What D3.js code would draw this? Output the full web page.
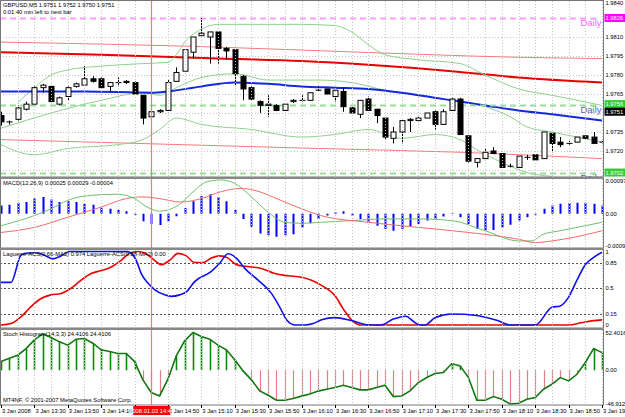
<!DOCTYPE html>
<html><head><meta charset="utf-8">
<script src="https://cdn.jsdelivr.net/npm/d3@7"></script>
<style>
body{margin:0;background:#fff;overflow:hidden}
text{font-family:"Liberation Sans",Arial,sans-serif;font-size:5.8px}
</style></head><body><div id="chart"></div>
<script>
// GBPUSD M5 - candles + indicators, MT4 style

// price bars [open, high, low, close], one per 5 min bar from 13:10
const bars = [
  [1.9748,1.9751,1.9740,1.9743],[1.9743,1.9744,1.9741,1.9743],[1.9745,1.9756,1.9744,1.9754],[1.9753,1.9759,1.9752,1.9757],
  [1.9757,1.9771,1.9757,1.9770],[1.9770,1.9773,1.9766,1.9772],[1.9771,1.9771,1.9759,1.9759],[1.9757,1.9763,1.9756,1.9762],
  [1.9763,1.9771,1.9760,1.9770],[1.9771,1.9774,1.9770,1.9773],[1.9772,1.9787,1.9772,1.9777],[1.9777,1.9779,1.9774,1.9775],
  [1.9777,1.9778,1.9770,1.9770],[1.9771,1.9774,1.9767,1.9774],[1.9774,1.9778,1.9771,1.9774],[1.9775,1.9776,1.9773,1.9774],
  [1.9774,1.9775,1.9765,1.9765],[1.9764,1.9764,1.9741,1.9746],[1.9747,1.9751,1.9747,1.9751],[1.9751,1.9753,1.9750,1.9752],
  [1.9752,1.9776,1.9752,1.9774],[1.9775,1.9786,1.9775,1.9782],[1.9783,1.9800,1.9783,1.9800],[1.9798,1.9810,1.9793,1.9810],
  [1.9811,1.9825,1.9811,1.9813],[1.9810,1.9814,1.9789,1.9814],[1.9814,1.9814,1.9789,1.9801],[1.9801,1.9802,1.9792,1.9799],
  [1.9800,1.9800,1.9772,1.9781],[1.9779,1.9780,1.9760,1.9769],[1.9770,1.9771,1.9760,1.9761],[1.9759,1.9760,1.9750,1.9756],
  [1.9756,1.9764,1.9747,1.9757],[1.9756,1.9757,1.9752,1.9752],[1.9752,1.9757,1.9752,1.9757],[1.9759,1.9761,1.9758,1.9760],
  [1.9760,1.9764,1.9759,1.9760],[1.9760,1.9766,1.9760,1.9766],[1.9768,1.9771,1.9767,1.9768],[1.9769,1.9769,1.9765,1.9765],
  [1.9763,1.9768,1.9759,1.9768],[1.9767,1.9770,1.9751,1.9755],[1.9754,1.9755,1.9750,1.9750],[1.9749,1.9760,1.9746,1.9760],
  [1.9761,1.9763,1.9752,1.9752],[1.9753,1.9753,1.9742,1.9748],[1.9746,1.9746,1.9729,1.9731],[1.9730,1.9739,1.9726,1.9735],
  [1.9735,1.9744,1.9726,1.9744],[1.9744,1.9746,1.9735,1.9745],[1.9744,1.9747,1.9744,1.9746],[1.9746,1.9750,1.9746,1.9750],
  [1.9751,1.9752,1.9737,1.9741],[1.9741,1.9753,1.9741,1.9751],[1.9752,1.9762,1.9752,1.9761],[1.9761,1.9762,1.9733,1.9733],
  [1.9732,1.9732,1.9711,1.9712],[1.9711,1.9714,1.9707,1.9714],[1.9714,1.9722,1.9714,1.9719],[1.9720,1.9723,1.9718,1.9718],
  [1.9718,1.9718,1.9707,1.9707],[1.9708,1.9710,1.9707,1.9708],[1.9707,1.9716,1.9707,1.9716],[1.9715,1.9717,1.9713,1.9715],
  [1.9717,1.9717,1.9713,1.9713],[1.9714,1.9735,1.9714,1.9735],[1.9734,1.9734,1.9719,1.9726],[1.9727,1.9731,1.9723,1.9725],
  [1.9726,1.9728,1.9725,1.9726],[1.9727,1.9731,1.9727,1.9731],[1.9732,1.9732,1.9730,1.9730],[1.9731,1.9735,1.9726,1.9726],
  [1.9727,1.9728,1.9726,1.9727]
];

// moving averages / bands, [bar, price]
const maBlue = [[0,1.9767],[10,1.9767],[18,1.9766],[20,1.9767],[24,1.9771],[28,1.9774],[32,1.9773],[36,1.9771],[40,1.9770],[44,1.9769],[48,1.9766],[52,1.9762],[55,1.9759],[58,1.9756],[62,1.9752],[66,1.9749],[72,1.9744]];
const maRed = [[0,1.9798],[12,1.9796],[26,1.9793],[36,1.9791],[44,1.9788],[54,1.9783],[62,1.9778],[72,1.9774]];
const envUp = [[0,1.9806],[26,1.9802],[43,1.9798],[62,1.9794],[72,1.9793]];
const envDn = [[0,1.9729],[38,1.9722],[55,1.9719],[72,1.9714]];
const bbUp = [[2,1.9758],[4,1.9770],[6,1.9780],[8,1.9784],[12,1.9787],[17,1.9789],[20,1.9790],[21,1.9796],[22,1.9806],[24,1.9816],[26,1.9820],[36,1.9820],[40,1.9819],[42,1.9814],[44,1.9804],[46,1.9796],[50,1.9792],[55,1.9789],[58,1.9780],[62,1.9769],[66,1.9764],[72,1.9756]];
const bbMid = [[0,1.9738],[6,1.9750],[12,1.9760],[17,1.9766],[19,1.9764],[21,1.9770],[24,1.9778],[28,1.9781],[32,1.9776],[38,1.9776],[42,1.9774],[46,1.9768],[50,1.9764],[54,1.9760],[58,1.9755],[61,1.9747],[63,1.9739],[66,1.9735],[72,1.9727]];
const bbDn = [[0,1.9725],[4,1.9717],[8,1.9722],[14,1.9725],[17,1.9729],[19,1.9737],[21,1.9746],[24,1.9741],[30,1.9737],[36,1.9731],[40,1.9733],[44,1.9737],[48,1.9730],[52,1.9733],[55,1.9729],[57,1.9721],[60,1.9711],[63,1.9703],[66,1.9700]];
const dailyLevels = [1.9825, 1.9756, 1.9703];

// MACD
const macdHist = [25,27,33,35,45,50,42,35,37,35,30,27,18,15,12,8,-3,-22,-30,-33,-22,-7,17,37,53,58,50,37,12,-15,-38,-58,-63,-68,-63,-60,-40,-28,-15,
  -5,5,8,-5,-15,-25,-35,-45,-50,-45,-38,-30,-20,-15,-8,2,-10,-30,-45,-50,-48,-40,-32,-20,-10,-3,15,25,30,32,33,33,30,25].map(v => v * 1e-5);
const macdGreen = [[0,-35],[6,15],[8,40],[11,55],[14,58],[16,45],[17.5,20],[19,8],[21.5,30],[23,65],[24.7,95],[26.3,100],[28,90],[30,50],[32,5],[34,-25],[36,-28],[38.3,-25],[42,-20],[46,-15],[50,-15],[54,-20],[58,-50],[62,-80],[63.5,-80],[65,-60],[67,-50],[70,-35],[72,-25]].map(d => [d[0], d[1] * 1e-5]);
const macdRed = [[0,-55],[4,-40],[8,-10],[12,20],[15,45],[17,50],[19,45],[21.5,35],[24,45],[26.3,65],[28.7,75],[30.3,70],[33.5,40],[36,15],[38.3,-5],[44,-25],[50,-40],[56,-55],[62,-75],[64,-85],[66,-80],[68.5,-70],[72,-50]].map(d => [d[0], d[1] * 1e-5]);

// Laguerre
const lagBlue = [[0,0.58],[1.2,0.58],[2.4,0.95],[3.2,0.98],[4.4,0.98],[5.2,0.95],[6.2,0.90],[7.2,0.94],[8.2,1],[15.2,1],[15.6,0.975],[16.2,0.88],[16.8,0.70],[17.6,0.57],[18.4,0.48],[19.6,0.41],[20.4,0.39],[21.4,0.41],[22.2,0.45],[23.2,0.59],[25.2,0.73],[26.2,0.84],[27.2,0.97],[28.2,0.91],[29.2,0.77],[30.8,0.61],[32.4,0.43],[33.6,0.20],[34.2,0.07],[35.2,0],[36.4,0],[37.4,0.02],[38.4,0.07],[40,0.1],[42,0.06],[44,0],[45.5,0],[47,0.08],[48.5,0.12],[49.5,0.04],[50.2,0],[50.8,0],[52,0.1],[54,0.15],[57,0.13],[59.5,0.06],[61,0],[64,0],[66,0.24],[67,0.26],[68,0.38],[69,0.61],[70,0.82],[71,0.92],[72,0.99]];
const lagRed = [[0,0],[1.2,0.02],[2.4,0.11],[3.6,0.25],[4.8,0.36],[6,0.41],[7.2,0.43],[8.4,0.50],[9.6,0.61],[10.8,0.70],[12,0.74],[13.2,0.79],[14.4,0.88],[15.4,0.975],[16.4,1],[17.2,0.98],[18.4,0.88],[19.2,0.82],[20.2,0.88],[21.2,0.975],[22.2,0.94],[23.2,0.85],[24.2,0.85],[25.2,0.91],[26.2,0.94],[27.2,0.91],[28.2,0.82],[29.2,0.80],[31.2,0.77],[32.8,0.70],[34.4,0.67],[36,0.65],[37.2,0.61],[38.4,0.54],[40,0.40],[41,0.22],[42,0.07],[43,0],[68,0],[69.5,0.03],[71,0.06],[72,0.07]];
const lagLevels = [0.85, 0.5, 0.15];

// Stoch histogram
const stoch = [12.0,16.7,20.9,30.1,42.2,50.5,45.4,39.4,34.8,43.1,44.0,37.5,28.3,26.0,23.2,23.2,12.0,-13.4,-31.0,-35.7,
  -12.5,19.9,40.8,52.40,46.8,43.1,34.8,28.3,14.4,-0.9,-13.4,-28.7,-34.8,-41.7,-41.7,-39.4,-36.0,-33.0,-29.0,-26.4,
  -24.1,-20.9,-24.1,-27.3,-27.3,-24.1,-20.9,-36.6,-35.7,-28.7,-17.1,-10.2,-4.6,-3.2,9.3,6.0,-10.2,-41.7,-41.7,-36.6,
  -40.3,-46.91,-45.9,-40.3,-38.0,-26.4,-19.5,-10.2,-14.8,-5.6,10.7,30.2,24.41];

// axis labels
const priceGrid = [1.9810,1.9795,1.9780,1.9765,1.9750,1.9735,1.9720,1.9705];
const priceLabels = [1.9810,1.9795,1.9780,1.9765,1.9735,1.9720];
const timeIdx = [0,4,8,12,16,20,24,28,32,36,40,44,48,52,56,60,64,68,72];
const timeLabels = ["3 Jan 2008","3 Jan 13:30","3 Jan 13:50","3 Jan 14:10","3 Jan 14:30","3 Jan 14:50","3 Jan 15:10","3 Jan 15:30","3 Jan 15:50","3 Jan 16:10",
  "3 Jan 16:30","3 Jan 16:50","3 Jan 17:10","3 Jan 17:30","3 Jan 17:50","3 Jan 18:10","3 Jan 18:30","3 Jan 18:50","3 Jan 19:10"];
const cursorBar = 18;

const W = 625, H = 417, R = 603.5;
const svg = d3.select("#chart").append("svg").attr("width", W).attr("height", H);
svg.append("rect").attr("width", W).attr("height", H).attr("fill", "#fff");

const x = d3.scaleLinear().domain([0, 72]).range([1, 602]);

// panes
const pMain = {top: 1, bottom: 177}, pMacd = {top: 179, bottom: 248}, pLag = {top: 250, bottom: 328}, pSto = {top: 330, bottom: 405};
const yP = d3.scaleLinear().domain([1.9720, 1.9810]).range([151, 37]);
const yM = d3.scaleLinear().domain([-0.00095, 0.00097]).range([246, 181]);
const yL = d3.scaleLinear().domain([0, 1]).range([325, 251.5]);
const yS = d3.scaleLinear().domain([-46.9129, 52.4016]).range([404, 332.5]);

function clip(id, p) {
  svg.append("clipPath").attr("id", id).append("rect")
    .attr("x", 0).attr("y", p.top).attr("width", R).attr("height", p.bottom - p.top);
  return svg.append("g").attr("clip-path", "url(#" + id + ")");
}
const gMain = clip("cMain", pMain), gMacd = clip("cMacd", pMacd), gLag = clip("cLag", pLag), gSto = clip("cSto", pSto);

// vertical grid (skip the cursor bar, the cursor line sits there)
[pMain, pMacd, pLag, pSto].forEach(p => {
  svg.append("g").selectAll("line").data(d3.range(2, 73, 2).filter(d => d != cursorBar)).join("line")
    .attr("x1", d => Math.round(x(d)) + 0.5).attr("x2", d => Math.round(x(d)) + 0.5)
    .attr("y1", p.top).attr("y2", p.bottom)
    .attr("stroke", "#c4c4c4").attr("stroke-dasharray", "1,2");
});
// horizontal grid main
gMain.selectAll("line.h").data(priceGrid).join("line")
  .attr("x1", 0).attr("x2", R).attr("y1", d => Math.round(yP(d)) + 0.5).attr("y2", d => Math.round(yP(d)) + 0.5)
  .attr("stroke", "#c4c4c4").attr("stroke-dasharray", "1,2");

// cursor line, under the marks
svg.append("line").attr("x1", Math.round(x(cursorBar)) + 0.5).attr("x2", Math.round(x(cursorBar)) + 0.5)
  .attr("y1", 0).attr("y2", 405).attr("stroke", "#f47878").attr("stroke-width", 1.2);

const line = (ys) => d3.line().x(d => x(d[0])).y(d => ys(d[1])).curve(d3.curveMonotoneX);

// main pane lines
gMain.append("path").attr("d", line(yP)(envUp)).attr("fill", "none").attr("stroke", "#f47a7a").attr("stroke-width", 1);
gMain.append("path").attr("d", line(yP)(envDn)).attr("fill", "none").attr("stroke", "#f47a7a").attr("stroke-width", 1);
gMain.append("path").attr("d", line(yP)(maRed)).attr("fill", "none").attr("stroke", "#e80000").attr("stroke-width", 2);
[bbUp, bbMid, bbDn].forEach(b => gMain.append("path").attr("d", line(yP)(b)).attr("fill", "none").attr("stroke", "#8fd08f").attr("stroke-width", 1));
gMain.append("path").attr("d", line(yP)(maBlue)).attr("fill", "none").attr("stroke", "#1428e0").attr("stroke-width", 2);

// daily levels
const dailyCol = ["#ff9cff", "#96e096", "#96e096"];
gMain.selectAll("line.d").data(dailyLevels).join("line")
  .attr("x1", 0).attr("x2", R - 6).attr("y1", d => Math.round(yP(d)) + 0.5).attr("y2", d => Math.round(yP(d)) + 0.5)
  .attr("stroke", (d, i) => dailyCol[i]).attr("stroke-width", 2).attr("stroke-dasharray", "6,4");
gMain.selectAll("text.d").data(dailyLevels).join("text")
  .attr("x", R - 2).attr("y", d => yP(d) + 8).attr("text-anchor", "end")
  .style("font-size", "9.5px").attr("fill", (d, i) => i == 0 ? "#ff66ff" : "#5f5fb0").text("Daily");

// candles
const cg = gMain.selectAll("g.c").data(bars).join("g");
cg.append("line").attr("x1", (d, i) => Math.round(x(i)) + 0.5).attr("x2", (d, i) => Math.round(x(i)) + 0.5)
  .attr("y1", d => yP(d[1])).attr("y2", d => yP(d[2])).attr("stroke", "#000");
cg.append("rect")
  .attr("x", (d, i) => Math.round(x(i)) - 2)
  .attr("y", d => Math.min(yP(d[0]), yP(d[3])))
  .attr("width", 5)
  .attr("height", d => Math.max(0.01, Math.abs(yP(d[0]) - yP(d[3]))))
  .attr("fill", d => d[3] < d[0] ? "#000" : "#fff")
  .attr("stroke", "#000").attr("stroke-width", 1);

// MACD
gMacd.selectAll("line.b").data(macdHist).join("line")
  .attr("x1", (d, i) => Math.round(x(i)) + 0.5).attr("x2", (d, i) => Math.round(x(i)) + 0.5)
  .attr("y1", yM(0)).attr("y2", d => yM(d)).attr("stroke", "#0000ff").attr("stroke-width", 2);
gMacd.append("path").attr("d", line(yM)(macdGreen)).attr("fill", "none").attr("stroke", "#6cc06c");
gMacd.append("path").attr("d", line(yM)(macdRed)).attr("fill", "none").attr("stroke", "#f06a6a");

// Laguerre
gLag.selectAll("line.l").data(lagLevels).join("line")
  .attr("x1", 0).attr("x2", R).attr("y1", d => Math.round(yL(d)) + 0.5).attr("y2", d => Math.round(yL(d)) + 0.5)
  .attr("stroke", "#555").attr("stroke-dasharray", "2,2");
gLag.append("path").attr("d", line(yL)(lagRed)).attr("fill", "none").attr("stroke", "#ee0000").attr("stroke-width", 1.6);
gLag.append("path").attr("d", line(yL)(lagBlue)).attr("fill", "none").attr("stroke", "#1010ee").attr("stroke-width", 1.6);

// Stoch histogram
gSto.selectAll("line.s").data(stoch).join("line")
  .attr("x1", (d, i) => Math.round(x(i)) + 0.5).attr("x2", (d, i) => Math.round(x(i)) + 0.5)
  .attr("y1", yS(0)).attr("y2", d => yS(d))
  .attr("stroke", d => d >= 0 ? "#0a8a0a" : "#e08080").attr("stroke-width", d => d >= 0 ? 1.6 : 1.2);
gSto.append("path").attr("d", d3.line().x((d, i) => x(i)).y(d => yS(d))(stoch))
  .attr("fill", "none").attr("stroke", "#127812").attr("stroke-width", 1.6);

// frames & separators
[pMain, pMacd, pLag, pSto].forEach(p => {
  svg.append("rect").attr("x", 0.5).attr("y", p.top - 0.5).attr("width", R - 0.5).attr("height", p.bottom - p.top + 0.5)
    .attr("fill", "none").attr("stroke", "#777");
});
[178, 249, 329].forEach(y => svg.append("line").attr("x1", 0).attr("x2", R).attr("y1", y).attr("y2", y).attr("stroke", "#888").attr("stroke-width", 2));

// right axis labels
const ax = svg.append("g");
ax.selectAll("text.p").data(priceLabels).join("text").attr("x", R + 2).attr("y", d => yP(d) + 2).text(d => d.toFixed(4));
ax.append("text").attr("x", R + 2).attr("y", 5).text("1.9840");
const boxes = [[1.9825, "1.9826", "#ff00ff"], [1.9757, "1.9756", "#33cc33"], [1.9751, "1.9751", "#000"], [1.9703, "1.9702", "#33cc33"]];
boxes.forEach(b => {
  ax.append("rect").attr("x", R + 1).attr("y", yP(b[0]) - 4).attr("width", W - R - 1).attr("height", 8).attr("fill", b[2]);
  ax.append("text").attr("x", R + 2).attr("y", yP(b[0]) + 2).attr("fill", "#fff").text(b[1]);
});
[[0.00097, "0.00097"], [0, "0.00"], [-0.00095, "-0.00095"]].forEach(t => ax.append("text").attr("x", R + 2).attr("y", yM(t[0]) + 2).text(t[1]));
[[1, "1"], [0.85, "0.85"], [0.5, "0.5"], [0.15, "0.15"], [0, "0"]].forEach(t => ax.append("text").attr("x", R + 2).attr("y", yL(t[0]) + 2).text(t[1]));
[[52.4016, "52.4016"], [0, "0.00"], [-46.9129, "-46.9129"]].forEach(t => ax.append("text").attr("x", R + 2).attr("y", yS(t[0]) + 2).text(t[1]));

// pane titles
svg.append("text").attr("x", 3).attr("y", 7).text("GBPUSD,M5  1.9751 1.9752 1.9750 1.9751");
svg.append("text").attr("x", 3).attr("y", 14).text("0:01:40 min left to next bar");
svg.append("text").attr("x", 3).attr("y", 185).text("MACD(12,26,9) 0.00025 0.00029 -0.00004");
svg.append("text").attr("x", 3).attr("y", 256).text("Laguerre-ACS(0.66-MA2) 0.974  Laguerre-ACS(0.88-MA2) 0.00");
svg.append("text").attr("x", 3).attr("y", 336).text("Stoch Histogram(14,3,3) 24.4106 24.4106");
svg.append("text").attr("x", 3).attr("y", 402).text("MT4NF, © 2001-2007 MetaQuotes Software Corp.");

// time axis
const tg = svg.append("g");
tg.selectAll("line").data(timeIdx).join("line")
  .attr("x1", d => Math.round(x(d)) + 0.5).attr("x2", d => Math.round(x(d)) + 0.5).attr("y1", 405).attr("y2", 408).attr("stroke", "#000");
tg.selectAll("text").data(timeIdx.filter(d => d != 16)).join("text")
  .attr("x", d => x(d) + 1).attr("y", 413).text(d => timeLabels[timeIdx.indexOf(d)]);
tg.append("rect").attr("x", x(cursorBar) - 18).attr("y", 406).attr("width", 37).attr("height", 9).attr("fill", "#ff0000");
tg.append("text").attr("x", x(cursorBar) + 0.5).attr("y", 413).attr("text-anchor", "middle").attr("fill", "#fff").text("2008.01.03 14:40");
</script></body></html>
